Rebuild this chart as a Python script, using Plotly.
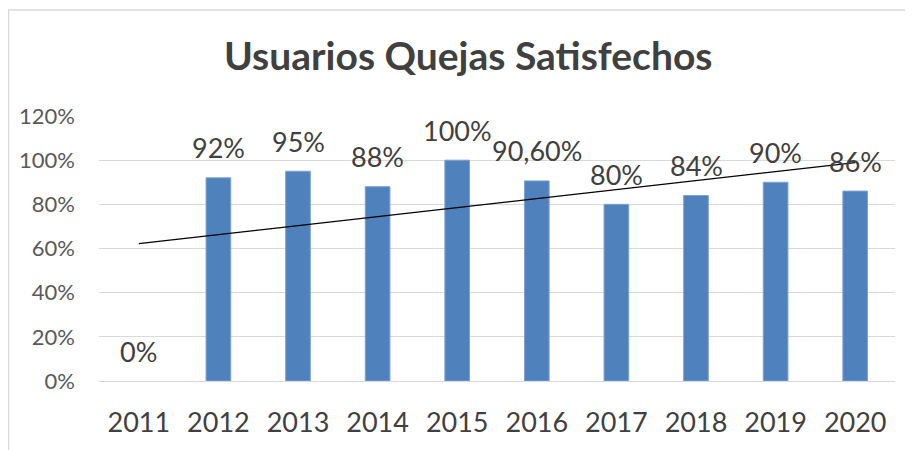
import numpy as np
import plotly.graph_objects as go

years = ["2011", "2012", "2013", "2014", "2015", "2016", "2017", "2018", "2019", "2020"]
values = [0.0, 0.92, 0.95, 0.88, 1.00, 0.906, 0.80, 0.84, 0.90, 0.86]
labels = ["0%", "92%", "95%", "88%", "100%", "90,60%", "80%", "84%", "90%", "86%"]
title_text = "Usuarios Quejas Satisfechos"

# linear trend line fitted to the data
xi = np.arange(len(values))
slope, intercept = np.polyfit(xi, values, 1)
trend = [intercept + slope * i for i in xi]

FONT = "Lato"
fig = go.Figure()
fig.add_trace(go.Bar(
    x=years, y=values, width=0.31,
    marker=dict(color="#4f81bd",
                line=dict(color="#7ea3d1", width=[0 if v == 0 else 1 for v in values])),
    showlegend=False, hoverinfo="skip",
))
fig.add_trace(go.Scatter(
    x=[years[0], years[-1]], y=[trend[0], trend[-1]], mode="lines",
    line=dict(color="#000000", width=1.2), showlegend=False, hoverinfo="skip",
))

for i, (v, t) in enumerate(zip(values, labels)):
    fig.add_annotation(x=i, y=v, text=t, showarrow=False, yanchor="middle",
                       yshift=30, font=dict(family=FONT, size=27, color="#404040"))

# page is shown with an 8px body margin, so figure coords = screen coords - 8
W, H = 913, 450
L, R, T, B = 91, 26, 108, 77
pw, ph = W - L - R, H - T - B

def px_to_paper_x(px):
    return (px - L) / pw

def px_to_paper_y(py):
    return 1 + (T - py) / ph

fig.add_annotation(x=px_to_paper_x(460), y=px_to_paper_y(47), xref="paper", yref="paper",
                   text="<b>" + title_text + "</b>", showarrow=False,
                   xanchor="center", yanchor="middle",
                   font=dict(family=FONT, size=39, color="#404040"))

# chart border
fig.add_shape(type="rect", xref="paper", yref="paper",
              x0=px_to_paper_x(0.5), x1=px_to_paper_x(960),
              y0=px_to_paper_y(500), y1=px_to_paper_y(2),
              line=dict(color="#d9d9d9", width=1.5), fillcolor="rgba(0,0,0,0)", layer="below")

fig.update_layout(
    width=W, height=H,
    margin=dict(l=L, r=R, t=T, b=B, autoexpand=False),
    paper_bgcolor="white", plot_bgcolor="white",
    bargap=0.69,
    xaxis=dict(type="category", range=[-0.5, 9.5], showgrid=False, showline=False, zeroline=False,
               ticks="", tickfont=dict(family=FONT, size=27, color="#404040"),
               ticklabelstandoff=23, automargin=False),
    yaxis=dict(range=[0, 1.2], dtick=0.2, tickformat=".0%", showgrid=True,
               gridcolor="#d9d9d9", gridwidth=1, zeroline=True, zerolinecolor="#d9d9d9",
               zerolinewidth=1, showline=False, ticks="",
               tickfont=dict(family=FONT, size=22, color="#595959"),
               ticklabelstandoff=23, automargin=False),
)
fig.write_html("out.html")
